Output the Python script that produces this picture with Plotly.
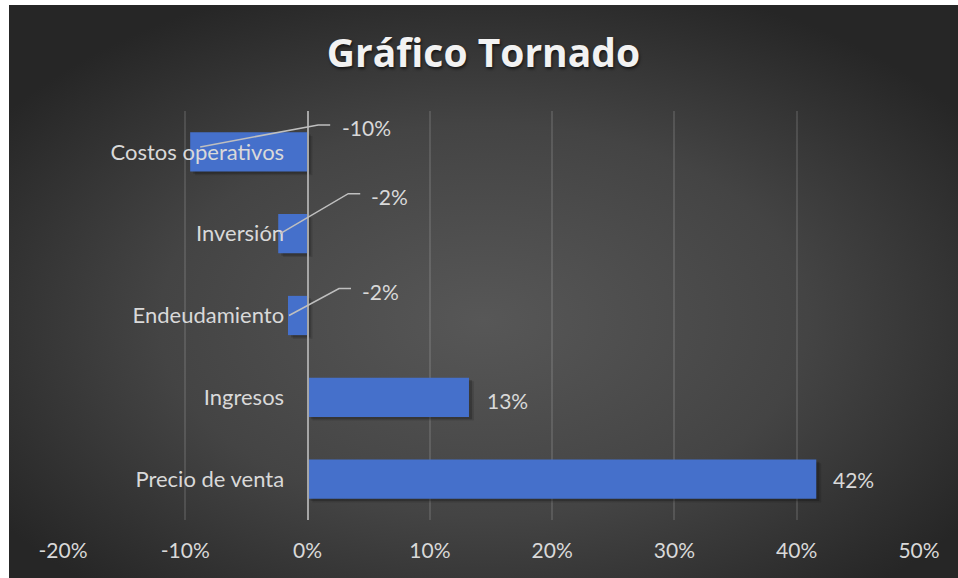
import base64
import plotly.graph_objects as go

# ---- data ----
categories = ["Precio de venta", "Ingresos", "Endeudamiento", "Inversión", "Costos operativos"]
impact = [0.416, 0.132, -0.016, -0.024, -0.096]
value_labels = ["42%", "13%", "-2%", "-2%", "-10%"]
tick_vals = [-0.2, -0.1, 0.0, 0.1, 0.2, 0.3, 0.4, 0.5]
tick_text = ["-20%", "-10%", "0%", "10%", "20%", "30%", "40%", "50%"]
title_text = "Gráfico Tornado"

# ---- styling / geometry ----
W, H = 958, 578
L, R, T, B = 63, 39, 111, 58
FONT = "Lato"
TXT = "#d9d9d9"
BARGAP = 0.52

svg = f'''<svg xmlns="http://www.w3.org/2000/svg" width="949" height="573" viewBox="0 0 949 573" preserveAspectRatio="none">
<defs><radialGradient id="g" cx="50%" cy="55%" r="62%">
<stop offset="0" stop-color="#575757"/><stop offset="0.55" stop-color="#444444"/><stop offset="1" stop-color="#262626"/>
</radialGradient></defs><rect width="949" height="573" fill="url(#g)"/></svg>'''
src = "data:image/svg+xml;base64," + base64.b64encode(svg.encode()).decode()
pw, ph = W - L - R, H - T - B
img_x0 = (9 - L) / pw
img_y0 = (H - B - 5) / ph
img_sx = (W - 9) / pw
img_sy = (H - 5) / ph

fig = go.Figure()
bw = 1 - BARGAP
# soft shadow layers (down-right of each bar)
for shift, alpha in [(0.004, 0.12), (0.0025, 0.18)]:
    fig.add_trace(go.Bar(
        x=impact, y=categories, orientation="h", base=shift,
        width=bw, offset=-bw / 2 - 0.045 * (shift / 0.004),
        marker=dict(color=f"rgba(0,0,0,{alpha})", line=dict(width=0)),
        hoverinfo="skip",
    ))
fig.add_trace(go.Bar(
    x=impact, y=categories, orientation="h",
    width=bw, offset=-bw / 2,
    marker=dict(color="#4570cb", line=dict(width=0)),
    hoverinfo="skip",
))

annotations = []
shapes = []
# offsets (pixels, y down) of label / leader-line pieces relative to the bar end
label_pos = {
    "Precio de venta": dict(text=(15, 0)),
    "Ingresos": dict(text=(16, 3)),
    "Endeudamiento": dict(text=(72, -24), end=(1, 0), bend=(51, -27)),
    "Inversión": dict(text=(91, -37), end=(2, 0), bend=(70, -40)),
    "Costos operativos": dict(text=(150, -24), end=(10, -5), bend=(128, -27)),
}
for i, (cat, val, lab) in enumerate(zip(categories, impact, value_labels)):
    p = label_pos[cat]
    tx, ty = p["text"]
    annotations.append(dict(x=val, y=cat, xref="x", yref="y", text=lab, showarrow=False,
                            xanchor="left", yanchor="middle", xshift=tx, yshift=-ty,
                            font=dict(family=FONT, size=21, color=TXT)))
    if "end" in p:
        ex, ey = p["end"]
        bx, by = p["bend"]
        path = f"M{ex},{-ey} L{bx},{-by} L{bx + 12},{-by}"
        shapes.append(dict(type="path", xref="x", yref="y", xsizemode="pixel", ysizemode="pixel",
                           xanchor=val, yanchor=i, path=path,
                           line=dict(color="#bfbfbf", width=1.5), layer="above"))

fig.update_layout(
    width=W, height=H,
    margin=dict(l=L, r=R, t=T, b=B, pad=0),
    paper_bgcolor="white",
    plot_bgcolor="rgba(0,0,0,0)",
    showlegend=False,
    barmode="overlay",
    title=dict(text=title_text, x=(9 + W) / 2 / W, xanchor="center", y=1 - 53 / H, yanchor="middle",
               font=dict(family="Open Sans", size=39, color="#f2f2f2", weight="bold",
                         shadow="1px 2px 3px rgba(0,0,0,0.6)")),
    images=[dict(source=src, xref="paper", yref="paper", x=img_x0, y=img_y0,
                 sizex=img_sx, sizey=img_sy, sizing="stretch", layer="below",
                 xanchor="left", yanchor="top")],
    annotations=annotations,
    shapes=shapes,
    xaxis=dict(range=[-0.2, 0.5], tickvals=tick_vals, ticktext=tick_text,
               showgrid=True, gridcolor="rgba(255,255,255,0.12)", gridwidth=1.5,
               zeroline=False, showline=False, ticks="",
               tickfont=dict(family=FONT, size=21, color=TXT), ticklabelstandoff=16),
    yaxis=dict(anchor="free", position=(0 - (-0.2)) / 0.7, showgrid=False, zeroline=False,
               showline=True, linecolor="#a6a6a6", linewidth=2, ticks="",
               layer="above traces", range=[-0.5, 4.5],
               tickfont=dict(family=FONT, size=22, color=TXT), ticklabelstandoff=18),
)

fig.write_html("out.html")
